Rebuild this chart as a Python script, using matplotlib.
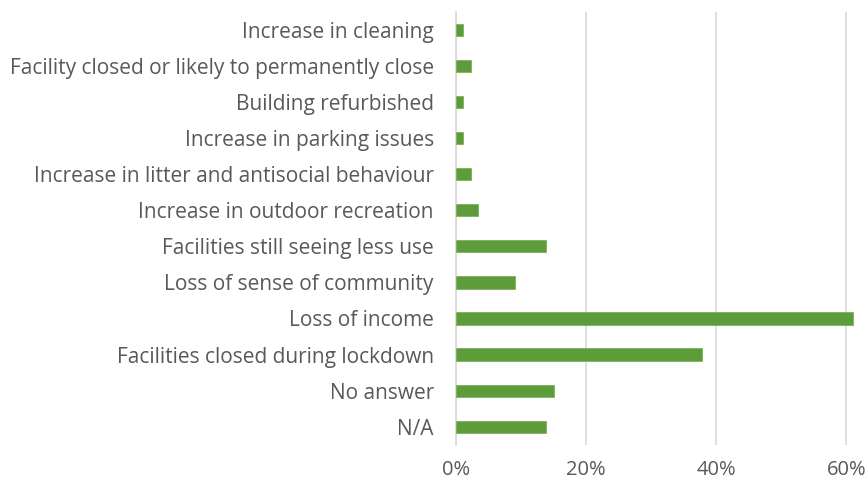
import numpy as np
import matplotlib.pyplot as plt
from matplotlib.ticker import PercentFormatter

plt.rcParams['font.family'] = ['Open Sans', 'DejaVu Sans']

# Categories from top to bottom as shown in the chart
categories = [
    'Increase in cleaning',
    'Facility closed or likely to permanently close',
    'Building refurbished',
    'Increase in parking issues',
    'Increase in litter and antisocial behaviour',
    'Increase in outdoor recreation',
    'Facilities still seeing less use',
    'Loss of sense of community',
    'Loss of income',
    'Facilities closed during lockdown',
    'No answer',
    'N/A',
]
shares = [1.1, 2.3, 1.1, 1.1, 2.3, 3.4, 13.8, 9.1, 61.1, 37.9, 15.0, 13.8]
x_ticks = [0, 20, 40, 60]

fig = plt.figure(figsize=(8.67, 4.83), dpi=100)
ax = fig.add_axes([0.526, 0.079, 0.474, 0.897])

y = np.arange(len(categories))
ax.barh(y, shares, height=0.34, color='#5e9b3a', edgecolor='#7ab356', linewidth=0.6, zorder=3)

ax.set_yticks(y)
ax.set_yticklabels(categories)
ax.set_ylim(len(categories) - 0.5, -0.5)
ax.set_xlim(0, 63.2)
ax.set_xticks(x_ticks)
ax.xaxis.set_major_formatter(PercentFormatter(decimals=0))

ax.grid(axis='x', color='#d9d9d9', linewidth=1.2, zorder=0)
for side in ['top', 'right', 'bottom']:
    ax.spines[side].set_visible(False)
ax.spines['left'].set_color('#d9d9d9')
ax.spines['left'].set_linewidth(1.2)

ax.tick_params(axis='y', length=0, pad=16, labelsize=15, labelcolor='#595959')
ax.tick_params(axis='x', length=0, pad=11, labelsize=14.5, labelcolor='#595959')

plt.savefig('out.png', dpi=100)
